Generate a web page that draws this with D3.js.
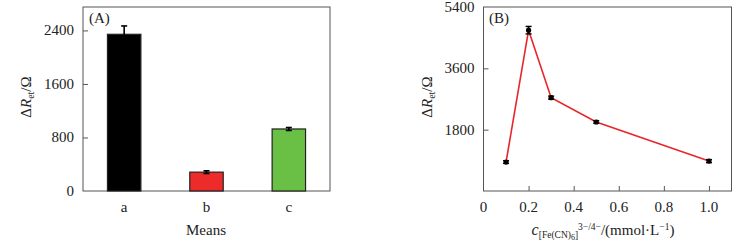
<!DOCTYPE html>
<html><head><meta charset="utf-8">
<script src="https://cdn.jsdelivr.net/npm/d3@7"></script>
<style>
body{margin:0;background:#fff}
text{font-family:"Liberation Serif","Times New Roman",serif;fill:#222}
</style>
</head><body>
<svg id="c" width="755" height="251"></svg>
<script>
// Panel A data
const means = ["a", "b", "c"];
const meanValues = [2342, 282, 927];
const meanErrors = [125, 20, 22];
const meanColors = ["#000000", "#ee2b2b", "#6abf45"];
const yTicksA = [0, 800, 1600, 2400];

// Panel B data
const conc = [0.1, 0.2, 0.3, 0.5, 1.0];
const concValues = [850, 4720, 2740, 2025, 877];
const concErrors = [40, 110, 45, 40, 45];
const yTicksB = [1800, 3600, 5400];
const xTicksB = [0, 0.2, 0.4, 0.6, 0.8, 1.0];

const svg = d3.select("#c");
const plotTop = 7, plotBottom = 191;
const fs = 15;
const axisCol = "#555";

function frame(x0, x1) {
  svg.append("rect").attr("x", x0).attr("y", plotTop).attr("width", x1 - x0).attr("height", plotBottom - plotTop)
    .attr("fill", "none").attr("stroke", axisCol).attr("stroke-width", 1);
}

function yLabel(x, y) {
  const t = svg.append("text").attr("transform", `translate(${x},${y}) rotate(-90)`)
    .attr("text-anchor", "middle").attr("font-size", fs);
  t.append("tspan").text("Δ");
  t.append("tspan").attr("font-style", "italic").text("R");
  t.append("tspan").attr("font-size", 10).attr("dy", 3).text("et");
  t.append("tspan").attr("dy", -3).text("/Ω");
}

// ---------- Panel A ----------
const xA = d3.scaleBand().domain(means).range([83, 330]).paddingInner(0.594).paddingOuter(0.297);
const yA = d3.scaleLinear().domain([0, 2750]).range([plotBottom, plotTop]);

frame(83, 330);

const gA = svg.append("g");
gA.selectAll("rect.bar").data(means).join("rect").attr("class", "bar")
  .attr("x", d => xA(d)).attr("width", xA.bandwidth())
  .attr("y", (d, i) => yA(meanValues[i])).attr("height", (d, i) => yA(0) - yA(meanValues[i]))
  .attr("fill", (d, i) => meanColors[i]).attr("stroke", "#222").attr("stroke-width", 1.2);

// error bars A
means.forEach((d, i) => {
  const cx = xA(d) + xA.bandwidth() / 2;
  const y1 = yA(meanValues[i] + meanErrors[i]), y0 = yA(meanValues[i] - meanErrors[i]);
  gA.append("line").attr("x1", cx).attr("x2", cx).attr("y1", y1).attr("y2", y0).attr("stroke", "#000").attr("stroke-width", 1.6);
  [y1, y0].forEach(yy => gA.append("line").attr("x1", cx - 3).attr("x2", cx + 3).attr("y1", yy).attr("y2", yy).attr("stroke", "#000").attr("stroke-width", 1.6));
});

// y axis A
const axA = svg.append("g").attr("transform", "translate(83,0)")
  .call(d3.axisRight(yA).tickValues(yTicksA).tickSize(5).tickFormat(""));
axA.select(".domain").remove();
axA.selectAll("line").attr("stroke", axisCol);
axA.selectAll("g.tick").filter(d => d === 0).remove();
svg.append("g").selectAll("text").data(yTicksA).join("text")
  .attr("x", 74).attr("y", d => yA(d) + 5).attr("text-anchor", "end").attr("font-size", fs).text(d => d);

// x labels A
svg.append("g").selectAll("text").data(means).join("text")
  .attr("x", d => xA(d) + xA.bandwidth() / 2).attr("y", 212).attr("text-anchor", "middle").attr("font-size", fs).text(d => d);
svg.append("text").attr("x", 206).attr("y", 235).attr("text-anchor", "middle").attr("font-size", fs).text("Means");
svg.append("text").attr("x", 89).attr("y", 23).attr("font-size", fs).text("(A)");
yLabel(31, 97);

// ---------- Panel B ----------
const xB = d3.scaleLinear().domain([0, 1.1]).range([483.5, 731.5]);
const yB = d3.scaleLinear().domain([0, 5400]).range([plotBottom, plotTop]);

frame(483.5, 731.5);

const axBy = svg.append("g").attr("transform", "translate(483.5,0)")
  .call(d3.axisRight(yB).tickValues(yTicksB.filter(v => v < 5400)).tickSize(5).tickFormat(""));
axBy.select(".domain").remove();
axBy.selectAll("line").attr("stroke", axisCol);
svg.append("g").selectAll("text").data(yTicksB).join("text")
  .attr("x", 474.5).attr("y", d => yB(d) + 5).attr("text-anchor", "end").attr("font-size", fs).text(d => d);

const axBx = svg.append("g").attr("transform", `translate(0,${plotBottom})`)
  .call(d3.axisTop(xB).tickValues(xTicksB.filter(v => v > 0)).tickSize(5).tickFormat(""));
axBx.select(".domain").remove();
axBx.selectAll("line").attr("stroke", axisCol);
svg.append("g").selectAll("text").data(xTicksB).join("text")
  .attr("x", d => xB(d)).attr("y", 212).attr("text-anchor", "middle").attr("font-size", fs)
  .text(d => d === 0 ? "0" : d3.format(".1f")(d));

const pts = conc.map((c, i) => [c, concValues[i], concErrors[i]]);
svg.append("path").datum(pts)
  .attr("d", d3.line().x(d => xB(d[0])).y(d => yB(d[1])))
  .attr("fill", "none").attr("stroke", "#e8262a").attr("stroke-width", 1.6);

pts.forEach(d => {
  const cx = xB(d[0]);
  const y1 = yB(d[1] + d[2]), y0 = yB(d[1] - d[2]);
  svg.append("line").attr("x1", cx).attr("x2", cx).attr("y1", y1).attr("y2", y0).attr("stroke", "#000").attr("stroke-width", 1.6);
  [y1, y0].forEach(yy => svg.append("line").attr("x1", cx - 3).attr("x2", cx + 3).attr("y1", yy).attr("y2", yy).attr("stroke", "#000").attr("stroke-width", 1.4));
});
svg.append("g").selectAll("circle").data(pts).join("circle")
  .attr("cx", d => xB(d[0])).attr("cy", d => yB(d[1])).attr("r", 2.6).attr("fill", "#000");

svg.append("text").attr("x", 489).attr("y", 23).attr("font-size", fs).text("(B)");
yLabel(432, 97);

// x label B
const xl = svg.append("text").attr("x", 603).attr("y", 235).attr("text-anchor", "middle").attr("font-size", fs);
xl.append("tspan").attr("font-style", "italic").attr("font-size", 16).text("c");
xl.append("tspan").attr("font-size", 9.5).attr("dy", 3).text("[Fe(CN)");
xl.append("tspan").attr("font-size", 8).attr("dy", 2).text("6");
xl.append("tspan").attr("font-size", 9.5).attr("dy", -2).text("]");
xl.append("tspan").attr("font-size", 9.5).attr("dy", -8).text("3−/4−");
xl.append("tspan").attr("dy", 5).text("/(mmol·L");
xl.append("tspan").attr("font-size", 9.5).attr("dy", -5).text("−1");
xl.append("tspan").attr("dy", 5).text(")");
</script>
</body></html>
